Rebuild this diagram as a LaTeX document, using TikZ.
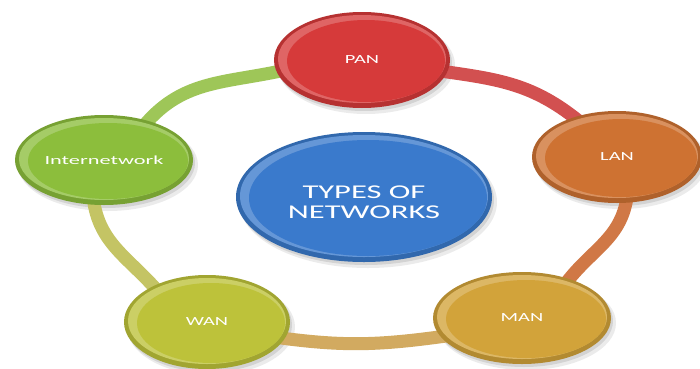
\documentclass[tikz,border=0pt]{standalone}
\usepackage{fontspec}
\setmainfont{Carlito}
\usetikzlibrary{shapes.geometric}
\pgfdeclarelayer{shad}
\pgfdeclarelayer{bg}
\pgfsetlayers{shad,bg,main}
\definecolor{panC}{RGB}{214,58,58}
\definecolor{lanC}{RGB}{206,114,50}
\definecolor{manC}{RGB}{210,163,58}
\definecolor{wanC}{RGB}{189,194,58}
\definecolor{inetC}{RGB}{140,190,60}
\definecolor{cenC}{RGB}{58,122,204}
\definecolor{bandG}{RGB}{158,198,88}
\definecolor{bandR}{RGB}{210,80,80}
\definecolor{bandO}{RGB}{208,120,70}
\definecolor{bandT}{RGB}{210,170,96}
\definecolor{bandY}{RGB}{196,196,100}
\newcommand\bub[8]{%
  \begin{pgfonlayer}{shad}
    \fill[black,opacity=0.08] (#2+4,#3-5) ellipse [x radius=#4+1, y radius=#5+1];
    \fill[black,opacity=0.10] (#2+2,#3-3) ellipse [x radius=#4, y radius=#5];
  \end{pgfonlayer}
  \fill[#6!85!black] (#2,#3) ellipse [x radius=#4, y radius=#5];
  \fill[#6!78!white] (#2,#3+1) ellipse [x radius=#4-4, y radius=#5-4];
  \fill[#6] (#2+4,#3-1) ellipse [x radius=#4-9, y radius=#5-7];
  \node[ellipse, inner sep=0pt, minimum width={2*#4}, minimum height={2*#5}, text=white, align=center, #8] (#1) at (#2,#3) {#7};
}
\newcommand\lab[2]{\scalebox{#1}[1]{#2}}
\tikzset{small/.style={font=\fontsize{12.4}{14}\selectfont},
         big/.style={font=\fontsize{19.5}{19.5}\selectfont},
         band/.style={line width=13pt, draw=#1, shorten <=-12pt, shorten >=-12pt}}
\begin{document}
\begin{tikzpicture}[x=1pt,y=1pt]
\useasboundingbox (0,0) rectangle (700,368);
\begin{pgfonlayer}{shad}
\fill[white] (0,0) rectangle (700,368);
\end{pgfonlayer}
\bub{pan}{362}{308}{88}{48}{panC}{\lab{1.65}{PAN}}{small}
\bub{lan}{617}{211}{85}{46}{lanC}{\lab{1.65}{LAN}}{small}
\bub{inet}{104}{208}{89}{45}{inetC}{\lab{1.8}{Internetwork}}{small}
\bub{wan}{207}{46}{83}{47}{wanC}{\lab{1.65}{WAN}}{small}
\bub{man}{522}{50}{89}{46}{manC}{\lab{1.65}{MAN}}{small}
\bub{cen}{364}{171}{128}{65}{cenC}{\lab{1.67}{TYPES OF}\\\lab{1.67}{NETWORKS}}{big, yshift=-5pt}
\begin{pgfonlayer}{bg}
\draw[band=bandG] (inet.42) to[out=52, in=193] (pan.188);
\draw[band=bandR] (pan.352) to[out=-8, in=140] (lan.137);
\draw[band=bandO] (lan.282) to[out=-95, in=55] (man.40);
\draw[band=bandT] (man.193) to[out=188, in=-8] (wan.348);
\draw[band=bandY] (inet.257) to[out=-85, in=130] (wan.146);
\end{pgfonlayer}
\end{tikzpicture}
\end{document}
